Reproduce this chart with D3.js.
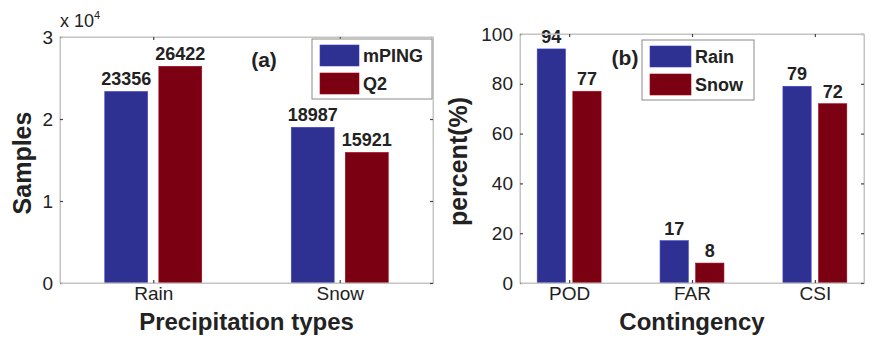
<!DOCTYPE html>
<html>
<head>
<meta charset="utf-8">
<script src="https://cdn.jsdelivr.net/npm/d3@7"></script>
<style>
  body { margin: 0; background: #fff; }
  svg { display: block; font-family: 'Liberation Sans', Arial, sans-serif; }
</style>
</head>
<body>
<svg width="872" height="339"></svg>
<script>
// panel (a) data
const precipTypes = ['Rain', 'Snow'];
const mpingCounts = [23356, 18987];
const q2Counts = [26422, 15921];
const samplesTicks = [0, 1, 2, 3];

// panel (b) data
const contingency = ['POD', 'FAR', 'CSI'];
const rainPercent = [94, 17, 79];
const snowPercent = [77, 8, 72];
const percentTicks = [0, 20, 40, 60, 80, 100];

const blue = '#2e3192';
const red = '#7b0011';
const textColor = '#222';
const boxColor = '#c4c4c4';

const svg = d3.select('svg');

// matlab style grouped bars: offset/width are in x-units
const barOffset = 0.145;
const barWidth = 0.23;

function drawPanel(opts) {
  const { left, right, top, bottom, xDomain, yMax, yTicks, yFormat,
          cats, series, colors, names, xLabel, yLabel, yLabelX, tag, legend } = opts;

  const x = d3.scaleLinear().domain(xDomain).range([left, right]);
  const y = d3.scaleLinear().domain([0, yMax]).range([bottom, top]);
  const g = svg.append('g');

  // bars
  series.forEach((vals, si) => {
    const off = si === 0 ? -barOffset : barOffset;
    g.append('g')
      .selectAll('rect')
      .data(vals)
      .join('rect')
      .attr('x', (d, i) => x(i + 1 + off - barWidth / 2))
      .attr('y', (d) => y(d))
      .attr('width', x(xDomain[0] + barWidth) - x(xDomain[0]))
      .attr('height', (d) => y(0) - y(d))
      .attr('fill', colors[si])
      .attr('stroke', d3.color(colors[si]).brighter(0.8))
      .attr('stroke-width', 0.6);

    g.append('g')
      .selectAll('text')
      .data(vals)
      .join('text')
      .attr('x', (d, i) => x(i + 1 + off))
      .attr('y', (d) => y(d) - 6)
      .attr('text-anchor', 'middle')
      .attr('font-size', 18)
      .attr('font-weight', 'bold')
      .attr('fill', textColor)
      .text((d) => d);
  });

  // axes box
  g.append('rect')
    .attr('x', left)
    .attr('y', top)
    .attr('width', right - left)
    .attr('height', bottom - top)
    .attr('fill', 'none')
    .attr('stroke', boxColor);

  const catTicks = cats.map((c, i) => i + 1);

  const yAxis = g.append('g')
    .attr('transform', `translate(${left},0)`)
    .call(d3.axisLeft(y).tickValues(yTicks).tickFormat(yFormat).tickSizeInner(-3).tickSizeOuter(0).tickPadding(7));
  const xAxis = g.append('g')
    .attr('transform', `translate(0,${bottom})`)
    .call(d3.axisBottom(x).tickValues(catTicks).tickFormat((d) => cats[d - 1]).tickSizeInner(-3).tickSizeOuter(0).tickPadding(4));
  // mirrored ticks on top / right
  g.append('g')
    .attr('transform', `translate(${right},0)`)
    .call(d3.axisRight(y).tickValues(yTicks).tickFormat('').tickSizeInner(-3).tickSizeOuter(0));
  g.append('g')
    .attr('transform', `translate(0,${top})`)
    .call(d3.axisTop(x).tickValues(catTicks).tickFormat('').tickSizeInner(-3).tickSizeOuter(0));

  g.selectAll('.domain').attr('stroke', boxColor);
  g.selectAll('.tick line').attr('stroke', '#444').attr('stroke-width', 1.2);
  [yAxis, xAxis].forEach((a) =>
    a.selectAll('.tick text')
      .attr('font-size', 19)
      .attr('fill', textColor)
      .attr('font-family', 'Liberation Sans, Arial, sans-serif'));

  // axis labels
  g.append('text')
    .attr('x', (left + right) / 2)
    .attr('y', 330)
    .attr('text-anchor', 'middle')
    .attr('font-size', 24)
    .attr('font-weight', 'bold')
    .attr('fill', textColor)
    .text(xLabel);

  g.append('text')
    .attr('transform', `translate(${yLabelX},${(top + bottom) / 2 + 3}) rotate(-90)`)
    .attr('text-anchor', 'middle')
    .attr('font-size', 25)
    .attr('font-weight', 'bold')
    .attr('fill', textColor)
    .text(yLabel);

  // panel tag
  g.append('text')
    .attr('x', tag.x)
    .attr('y', tag.y)
    .attr('text-anchor', 'middle')
    .attr('font-size', 21)
    .attr('font-weight', 'bold')
    .attr('fill', textColor)
    .text(tag.text);

  // legend
  const lg = g.append('g').attr('transform', `translate(${legend.x},${legend.y})`);
  lg.append('rect')
    .attr('width', legend.w)
    .attr('height', 60)
    .attr('fill', '#fff')
    .attr('stroke', '#8a8a8a');
  names.forEach((n, i) => {
    lg.append('rect')
      .attr('x', 8)
      .attr('y', 6 + i * 28)
      .attr('width', legend.sw)
      .attr('height', 21)
      .attr('fill', colors[i])
      .attr('stroke', d3.color(colors[i]).brighter(0.8))
      .attr('stroke-width', 0.6);
    lg.append('text')
      .attr('x', legend.sw + 12)
      .attr('y', 6 + i * 28 + 10.5)
      .attr('dy', '0.35em')
      .attr('font-size', 18)
      .attr('font-weight', 'bold')
      .attr('fill', textColor)
      .text(n);
  });

  return { x, y, g };
}

const panelA = drawPanel({
  left: 60, right: 433, top: 37, bottom: 283,
  xDomain: [0.5, 2.5], yMax: 3e4, yTicks: samplesTicks.map((t) => t * 1e4),
  yFormat: (d) => d / 1e4,
  cats: precipTypes, series: [mpingCounts, q2Counts], colors: [blue, red],
  names: ['mPING', 'Q2'],
  xLabel: 'Precipitation types', yLabel: 'Samples', yLabelX: 31,
  tag: { text: '(a)', x: 264, y: 67 },
  legend: { x: 312, y: 39, w: 120, sw: 39 },
});

// exponent label above the y axis
const expo = panelA.g.append('text')
  .attr('x', 60)
  .attr('y', 27)
  .attr('font-size', 18)
  .attr('fill', textColor);
expo.append('tspan').text('x 10');
expo.append('tspan').attr('font-size', 11).attr('dy', -8).text('4');

drawPanel({
  left: 520, right: 864, top: 34, bottom: 283,
  xDomain: [0.6, 3.4], yMax: 100, yTicks: percentTicks,
  yFormat: (d) => d,
  cats: contingency, series: [rainPercent, snowPercent], colors: [blue, red],
  names: ['Rain', 'Snow'],
  xLabel: 'Contingency', yLabel: 'percent(%)', yLabelX: 467,
  tag: { text: '(b)', x: 625, y: 65 },
  legend: { x: 642, y: 40, w: 112, sw: 41 },
});
</script>
</body>
</html>
